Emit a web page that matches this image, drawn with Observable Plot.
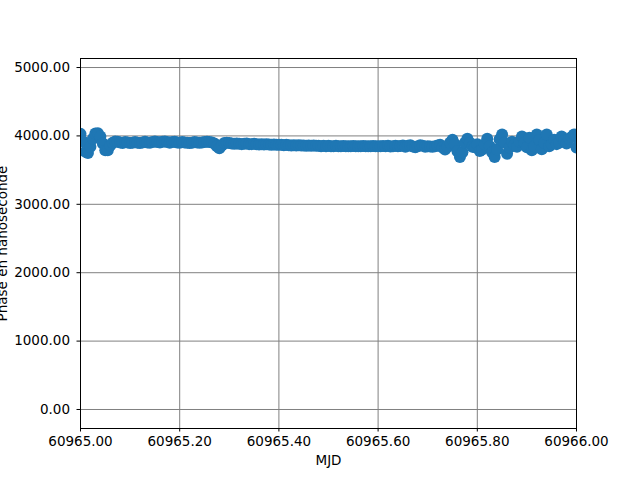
<!DOCTYPE html>
<html>
<head>
<meta charset="utf-8">
<script src="https://cdn.jsdelivr.net/npm/d3@7"></script>
<script src="https://cdn.jsdelivr.net/npm/@observablehq/plot@0.6"></script>
<style>
  html, body { margin: 0; padding: 0; background: #fff; }
</style>
</head>
<body>
<div id="chart"></div>
<script>
// Sampling of the time axis (MJD)
const mjdStart = 60965.0;
const mjdStep = 0.005;

// Phase values (ns), one per sample
const phase = [
  4030, 3920, 3770, 3750, 3840, 3960, 4035, 4040, 3990, 3890,
  3790, 3790, 3860, 3900, 3920, 3915, 3905, 3895, 3910, 3905,
  3895, 3900, 3910, 3900, 3895, 3905, 3915, 3905, 3900, 3910,
  3920, 3910, 3905, 3915, 3920, 3910, 3900, 3910, 3915, 3905,
  3900, 3910, 3905, 3900, 3895, 3900, 3910, 3905, 3900, 3905,
  3910, 3915, 3910, 3905, 3890, 3850, 3820, 3860, 3895, 3900,
  3895, 3890, 3885, 3890, 3885, 3880, 3885, 3890, 3880, 3880,
  3885, 3880, 3875, 3880, 3875, 3880, 3875, 3870, 3875, 3870,
  3870, 3870, 3865, 3870, 3865, 3860, 3865, 3860, 3865, 3860,
  3860, 3855, 3860, 3855, 3860, 3855, 3855, 3850, 3855, 3850,
  3855, 3850, 3850, 3855, 3850, 3848, 3852, 3850, 3848, 3850,
  3852, 3850, 3848, 3850, 3852, 3850, 3848, 3850, 3852, 3850,
  3848, 3850, 3852, 3850, 3855, 3845, 3850, 3855, 3848, 3852,
  3860, 3840, 3855, 3865, 3845, 3835, 3850, 3865, 3855, 3840,
  3850, 3845, 3840, 3850, 3860, 3870, 3830, 3800, 3840, 3900,
  3945, 3880, 3775, 3690, 3760, 3900, 3960, 3900, 3840, 3835,
  3880, 3780, 3800, 3880, 3960, 3850, 3760, 3690, 3800, 3950,
  4020, 3900, 3740, 3830, 3915, 3870, 3840, 3920, 3990, 3900,
  3835, 3975, 3790, 3850, 4020, 3940, 3805, 3900, 4020, 3850,
  3880, 3945, 3880, 3900, 3990, 3930, 3890, 3960, 3985, 4020,
  3830
];

const xTicks = [60965.0, 60965.2, 60965.4, 60965.6, 60965.8, 60966.0];
const yTicks = [0, 1000, 2000, 3000, 4000, 5000];

const data = phase.map((v, i) => ({mjd: mjdStart + i * mjdStep, phase: v}));

const fmt = d3.format(".2f");

const chart = Plot.plot({
  width: 640,
  height: 480,
  marginLeft: 80,
  marginRight: 64,
  marginTop: 58,
  marginBottom: 52,
  style: {fontFamily: "DejaVu Sans", fontSize: "13.5px", color: "black", background: "white"},
  x: {domain: [60965, 60966]},
  y: {domain: [-278, 5132]},
  marks: [
    Plot.gridX(xTicks, {stroke: "#808080", strokeOpacity: 1, strokeWidth: 1}),
    Plot.gridY(yTicks, {stroke: "#808080", strokeOpacity: 1, strokeWidth: 1}),
    Plot.line(data, {x: "mjd", y: "phase", stroke: "#1f77b4", strokeWidth: 1.5, clip: true}),
    Plot.dot(data, {x: "mjd", y: "phase", r: 6, fill: "#1f77b4", stroke: "none", clip: true}),
    Plot.frame({stroke: "black", strokeWidth: 1}),
    Plot.axisX(xTicks, {tickFormat: fmt, tickSize: 3.5, tickPadding: 4, fontSize: 13.5,
      label: "MJD", labelAnchor: "center", labelArrow: "none", labelOffset: 36}),
    Plot.axisY(yTicks, {tickFormat: fmt, tickSize: 3.5, tickPadding: 7, fontSize: 13.5,
      label: "Phase en nanoseconde", labelAnchor: "center", labelArrow: "none", labelOffset: 83})
  ]
});

document.getElementById("chart").appendChild(chart);
</script>
</body>
</html>
